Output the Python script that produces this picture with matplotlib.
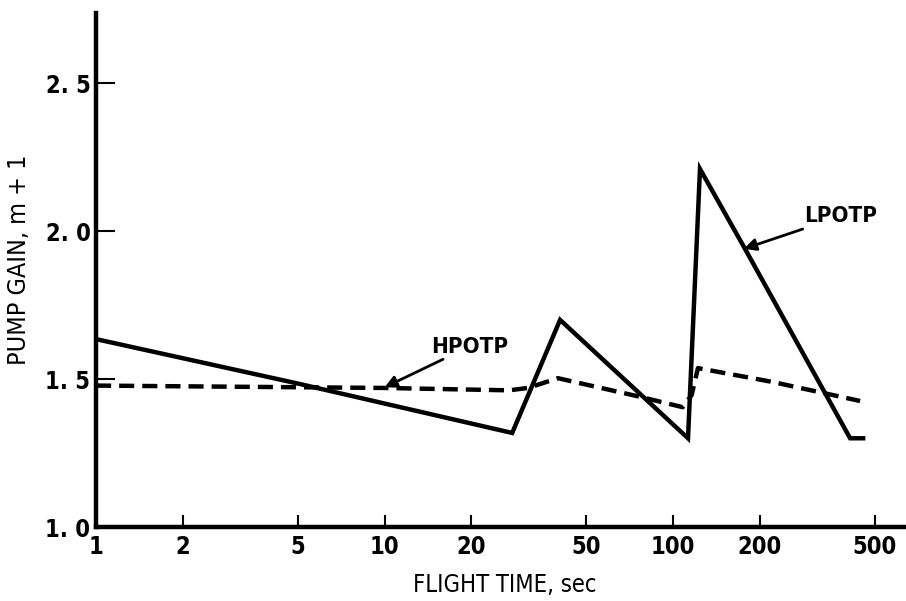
import matplotlib.pyplot as plt

# flight time (sec) and pump gain m + 1
lpotp_t = [1, 5, 27.7, 40.6, 112.7, 124, 180, 411, 456]
lpotp_g = [1.635, 1.485, 1.318, 1.70, 1.30, 2.21, 1.93, 1.30, 1.30]

hpotp_t = [1, 10, 27, 31.4, 39.9, 77, 108, 116, 122, 222, 445]
hpotp_g = [1.478, 1.47, 1.462, 1.47, 1.503, 1.44, 1.405, 1.446, 1.537, 1.49, 1.426]

xticks = [1, 2, 5, 10, 20, 50, 100, 200, 500]
yticks = [1.0, 1.5, 2.0, 2.5]

plt.rcParams['font.family'] = ['DejaVu Sans']
plt.rcParams['font.stretch'] = 'condensed'
plt.rcParams['font.weight'] = 'bold'

fig = plt.figure(figsize=(9.06, 6.01), dpi=100)
ax = fig.add_axes([0.106, 0.123, 0.894, 0.855])

ax.plot(lpotp_t, lpotp_g, color='black', lw=3.2, solid_joinstyle='miter')
ax.plot(hpotp_t, hpotp_g, color='black', lw=3.2, linestyle=(0, (3.4, 1.8)))

ax.set_xscale('log')
ax.set_xlim(1, 642)
ax.set_ylim(1.0, 2.736)
ax.set_xticks(xticks)
ax.set_xticklabels([str(t) for t in xticks])
ax.minorticks_off()
ax.set_yticks(yticks)
ax.set_yticklabels(['1. 0', '1. 5', '2. 0', '2. 5'])

for s in ['top', 'right']:
    ax.spines[s].set_visible(False)
for s in ['left', 'bottom']:
    ax.spines[s].set_linewidth(3.2)

ax.tick_params(axis='x', direction='in', length=9, width=1.5, labelsize=17, pad=6)
ax.tick_params(axis='y', direction='in', length=14, width=1.5, labelsize=17, pad=4)

ax.set_xlabel('FLIGHT TIME, sec', fontsize=17)
ax.set_ylabel('PUMP GAIN, m + 1', fontsize=18)
ax.xaxis.set_label_coords(0.505, -0.09)
ax.yaxis.set_label_coords(-0.08, 0.52)

arrow = dict(arrowstyle='-|>', color='black', lw=2, mutation_scale=18,
             shrinkA=0, shrinkB=0)
ax.annotate('HPOTP', xy=(10, 1.472), xytext=(14.5, 1.61), fontsize=16,
            va='center', ha='left', arrowprops=arrow)
ax.annotate('LPOTP', xy=(176, 1.94), xytext=(285, 2.05), fontsize=16,
            va='center', ha='left', arrowprops=arrow)

fig.savefig('out.png')
